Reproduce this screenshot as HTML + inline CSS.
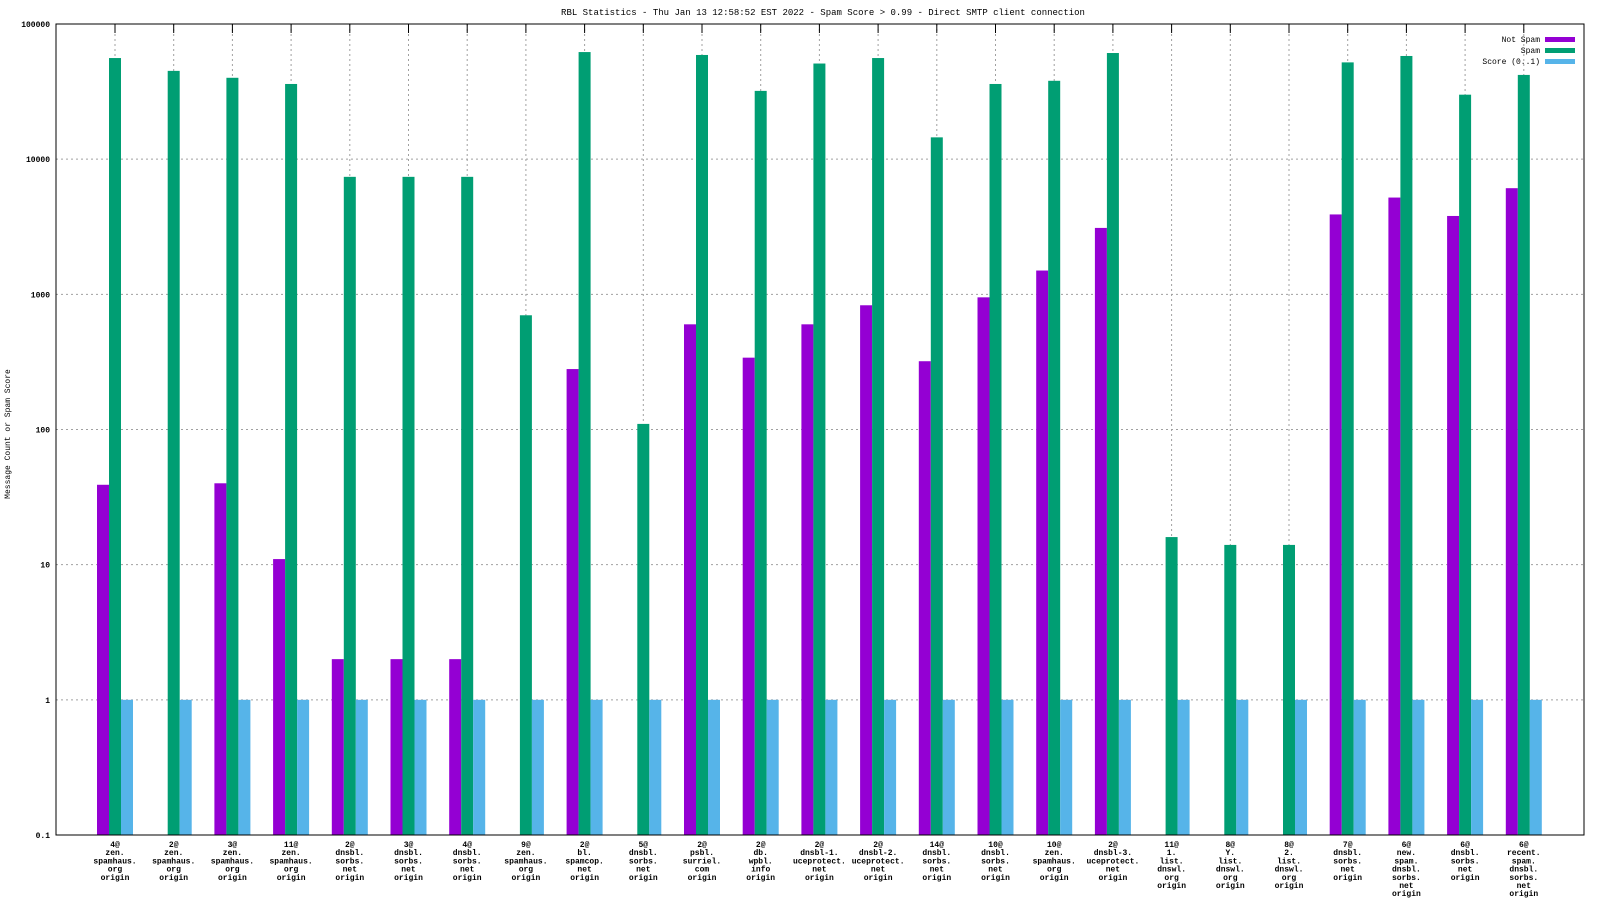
<!DOCTYPE html>
<html><head><meta charset="utf-8"><style>
body{margin:0;background:#fff;}
svg{display:block;font-family:"Liberation Mono","DejaVu Sans Mono",monospace;}
</style></head><body>
<svg id="chart" width="1600" height="900"></svg>
<script>
const categories=[["4@","zen.","spamhaus.","org","origin"],["2@","zen.","spamhaus.","org","origin"],["3@","zen.","spamhaus.","org","origin"],["11@","zen.","spamhaus.","org","origin"],["2@","dnsbl.","sorbs.","net","origin"],["3@","dnsbl.","sorbs.","net","origin"],["4@","dnsbl.","sorbs.","net","origin"],["9@","zen.","spamhaus.","org","origin"],["2@","bl.","spamcop.","net","origin"],["5@","dnsbl.","sorbs.","net","origin"],["2@","psbl.","surriel.","com","origin"],["2@","db.","wpbl.","info","origin"],["2@","dnsbl-1.","uceprotect.","net","origin"],["2@","dnsbl-2.","uceprotect.","net","origin"],["14@","dnsbl.","sorbs.","net","origin"],["10@","dnsbl.","sorbs.","net","origin"],["10@","zen.","spamhaus.","org","origin"],["2@","dnsbl-3.","uceprotect.","net","origin"],["11@","1.","list.","dnswl.","org","origin"],["8@","Y.","list.","dnswl.","org","origin"],["8@","2.","list.","dnswl.","org","origin"],["7@","dnsbl.","sorbs.","net","origin"],["6@","new.","spam.","dnsbl.","sorbs.","net","origin"],["6@","dnsbl.","sorbs.","net","origin"],["6@","recent.","spam.","dnsbl.","sorbs.","net","origin"]];
const notSpam=[39,0,40,11,2,2,2,0,280,0,600,340,600,830,320,950,1500,3100,0,0,0,3900,5200,3800,6100];
const spam=[56000,45000,40000,36000,7400,7400,7400,700,62000,110,59000,32000,51000,56000,14500,36000,38000,61000,16,14,14,52000,58000,30000,42000];
const score=[1,1,1,1,1,1,1,1,1,1,1,1,1,1,1,1,1,1,1,1,1,1,1,1,1];
const yTicks=[0.1,1,10,100,1000,10000,100000];
const yTickLabels=["0.1","1","10","100","1000","10000","100000"];

const NS="http://www.w3.org/2000/svg";
const svg=document.getElementById('chart');
const L=56,R=1584,T=24,B=835;
function y(v){return B-(Math.log10(v)+1)/6*(B-T);}
function x(i){return 115+58.7*i;}
function mk(tag,attrs,parent){const e=document.createElementNS(NS,tag);for(const k in attrs)e.setAttribute(k,attrs[k]);(parent||svg).appendChild(e);return e;}

let t=mk('text',{x:823,y:15,'text-anchor':'middle','font-size':9});


t.textContent="RBL Statistics - Thu Jan 13 12:58:52 EST 2022 - Spam Score > 0.99 - Direct SMTP client connection";
t=mk('text',{x:10,y:434,'text-anchor':'middle','font-size':8,transform:'rotate(-90 10 434)'});


t.textContent="Message Count or Spam Score";

yTicks.forEach((v,k)=>{
  const yy=y(v);
  const g=mk('line',{x1:L,x2:R,y1:yy,y2:yy,stroke:'#a0a0a0','stroke-dasharray':'2,3','stroke-width':1});
  
  
  const lb=mk('text',{x:L-6,y:yy+3,'text-anchor':'end','font-size':8,'font-weight':'bold'});
  
  
  lb.textContent=yTickLabels[k];
});
categories.forEach((c,i)=>{
  const g=mk('line',{x1:x(i),x2:x(i),y1:T,y2:B,stroke:'#a0a0a0','stroke-dasharray':'2,3','stroke-width':1});
  
  
  const tk=mk('line',{x1:x(i),x2:x(i),y1:T,y2:T+9,stroke:'#000','stroke-width':1});
  
  
});

const series=[[notSpam,'#9400d3',-1,'bar-not-spam'],[spam,'#009e73',0,'bar-spam'],[score,'#56b4e9',1,'bar-score']];
series.forEach(([arr,col,off,name])=>{
  arr.forEach((v,i)=>{
    if(v<=0)return;
    const cx=x(i)+off*12;
    const r=mk('rect',{x:cx-6,y:y(v),width:12,height:B-y(v),fill:col});
    
    
  });
});

categories.forEach((c,i)=>{
  const tx=mk('text',{x:x(i),y:B+12,'text-anchor':'middle','font-size':8,'font-weight':'bold'});
  
  
  c.forEach((s,j)=>{const ts=mk('tspan',{x:x(i),dy:j?8.2:0},tx);ts.textContent=s;});
});

const bd=mk('rect',{x:L,y:T,width:R-L,height:B-T,fill:'none',stroke:'#000','stroke-width':1});



[["Not Spam",'#9400d3'],["Spam",'#009e73'],["Score (0..1)",'#56b4e9']].forEach(([n,c],k)=>{
  const yy=39+k*11;
  const lt=mk('text',{x:1540,y:yy+3,'text-anchor':'end','font-size':8});
  
  
  lt.textContent=n;
  const sw=mk('rect',{x:1545,y:yy-2,width:30,height:5,fill:c});
  
  
});
</script>
</body></html>
